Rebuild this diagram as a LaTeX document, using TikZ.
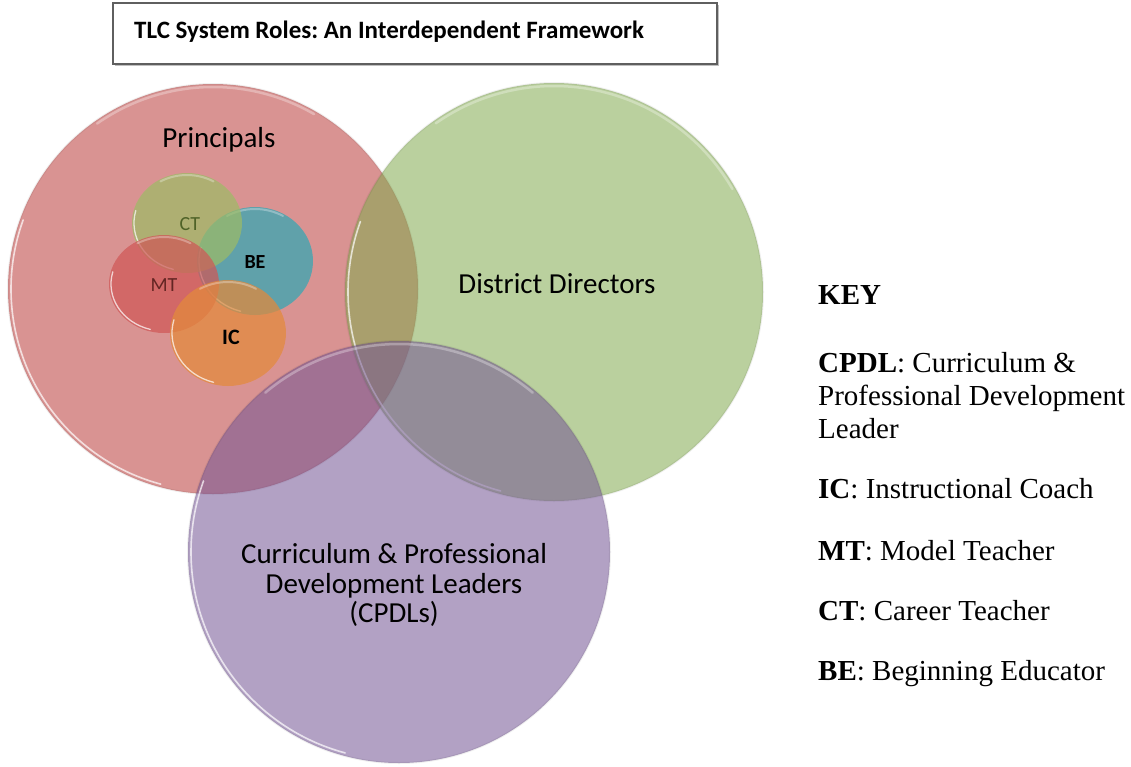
\documentclass[tikz,border=0pt]{standalone}
\usepackage{fontspec}
\setmainfont{Liberation Serif}
\newfontfamily\calibri{Carlito}
\frenchspacing

% translucent base colours of the discs
\definecolor{princ}{RGB}{186,59,57}
\definecolor{distr}{RGB}{130,170,79}
\definecolor{cpdl}{RGB}{115,84,148}
\definecolor{ctcol}{RGB}{157,187,102}
\definecolor{becol}{RGB}{50,166,180}
\definecolor{mtcol}{RGB}{207,87,87}
\definecolor{iccol}{RGB}{228,137,59}
\definecolor{cttext}{RGB}{79,98,40}
\definecolor{mttext}{RGB}{99,37,35}
\definecolor{boxline}{RGB}{95,95,95}

\begin{document}
\begin{tikzpicture}[x=1pt,y=-1pt,
  bigdisc/.style={fill=#1, fill opacity=0.55},
  smalldisc/.style={fill=#1, fill opacity=0.72},
  rimlight/.style={draw=white, draw opacity=0.7, line width=1.6pt, line cap=round},
  toplight/.style={draw=white, draw opacity=0.3, line width=2.5pt, line cap=round},
  edgeshade/.style={draw=black, draw opacity=0.06, line width=2pt},
  biglabel/.style={font=\calibri\fontsize{29}{35}\selectfont, text=black, inner sep=0pt},
  smalllabel/.style={font=\calibri\fontsize{20}{24}\selectfont, inner sep=0pt},
  keytext/.style={font=\fontsize{29}{33}\selectfont, anchor=base west, inner sep=0pt},
  titlebox/.style={draw=boxline, line width=1.4pt, fill=white, inner sep=0pt}
]
\useasboundingbox (0,0) rectangle (1131,766);

% title
\fill[black!25] (115,5) rectangle (719,66);
\node[titlebox, minimum width=604pt, minimum height=61pt] (titlebox) at (415,33.5) {};
\node[font=\calibri\bfseries\fontsize{25}{30}\selectfont, anchor=base west, inner sep=0pt]
  (title) at (134,38) {TLC System Roles: An Interdependent Framework};

% Principals
\fill[bigdisc=princ] (213,289) circle[radius=205];
\draw[edgeshade] (213,289) circle[radius=205];
\draw[rimlight] (213,289) ++(105:202) arc[start angle=105, end angle=200, radius=202];
\draw[toplight] (213,289) ++(235:202) arc[start angle=235, end angle=300, radius=202];

% District Directors
\fill[bigdisc=distr] (554,292) circle[radius=209];
\draw[edgeshade] (554,292) circle[radius=209];
\draw[rimlight] (554,292) ++(105:206) arc[start angle=105, end angle=200, radius=206];
\draw[toplight] (554,292) ++(235:206) arc[start angle=235, end angle=330, radius=206];

% CPDLs
\fill[bigdisc=cpdl] (399,552) circle[radius=211];
\draw[edgeshade] (399,552) circle[radius=211];
\draw[rimlight] (399,552) ++(105:208) arc[start angle=105, end angle=200, radius=208];
\draw[toplight] (399,552) ++(230:208) arc[start angle=230, end angle=310, radius=208];

% teacher roles inside Principals
\fill[smalldisc=becol] (255,261) ellipse[x radius=58, y radius=54];
\draw[rimlight, line width=1.3pt] (255,261) ++(105:56 and 52) arc[start angle=105, end angle=195, x radius=56, y radius=52];
\draw[toplight, line width=2pt] (255,261) ++(240:56 and 52) arc[start angle=240, end angle=300, x radius=56, y radius=52];

\fill[smalldisc=ctcol] (187,223) ellipse[x radius=55, y radius=50];
\draw[rimlight, line width=1.3pt] (187,223) ++(105:53 and 48) arc[start angle=105, end angle=195, x radius=53, y radius=48];
\draw[toplight, line width=2pt] (187,223) ++(240:53 and 48) arc[start angle=240, end angle=300, x radius=53, y radius=48];

\fill[smalldisc=mtcol] (164,284) ellipse[x radius=55, y radius=49];
\draw[rimlight, line width=1.3pt] (164,284) ++(105:53 and 47) arc[start angle=105, end angle=195, x radius=53, y radius=47];
\draw[toplight, line width=2pt] (164,284) ++(240:53 and 47) arc[start angle=240, end angle=300, x radius=53, y radius=47];

\fill[smalldisc=iccol] (228,333) ellipse[x radius=58, y radius=53];
\draw[rimlight, line width=1.3pt] (228,333) ++(105:56 and 51) arc[start angle=105, end angle=195, x radius=56, y radius=51];
\draw[toplight, line width=2pt] (228,333) ++(240:56 and 51) arc[start angle=240, end angle=300, x radius=56, y radius=51];

% labels in the discs
\node[biglabel, anchor=base] (principals) at (219,147) {Principals};
\node[biglabel, anchor=base] (directors) at (557,293) {District Directors};
\node[biglabel, anchor=base] (cpdlA) at (394,563) {Curriculum \& Professional};
\node[biglabel, anchor=base] (cpdlB) at (394,593) {Development Leaders};
\node[biglabel, anchor=base] (cpdlC) at (394,622) {(CPDLs)};

\node[smalllabel, text=cttext] (ct) at (190,224) {CT};
\node[smalllabel, font=\calibri\bfseries\fontsize{20}{24}\selectfont] (be) at (255,262) {BE};
\node[smalllabel, text=mttext] (mt) at (164,285) {MT};
\node[smalllabel, font=\calibri\bfseries\fontsize{22}{26}\selectfont] (ic) at (231,337) {IC};

% key
\node[keytext] (key) at (818,304) {\textbf{KEY}};
\node[keytext] (keycpdlA) at (818,372) {\textbf{CPDL}: Curriculum \&};
\node[keytext] (keycpdlB) at (818,405) {Professional Development};
\node[keytext] (keycpdlC) at (818,438) {Leader};
\node[keytext] (keyic) at (818,498) {\textbf{IC}: Instructional Coach};
\node[keytext] (keymt) at (818,560) {\textbf{MT}: Model Teacher};
\node[keytext] (keyct) at (818,620) {\textbf{CT}: Career Teacher};
\node[keytext] (keybe) at (818,680) {\textbf{BE}: Beginning Educator};
\end{tikzpicture}
\end{document}
